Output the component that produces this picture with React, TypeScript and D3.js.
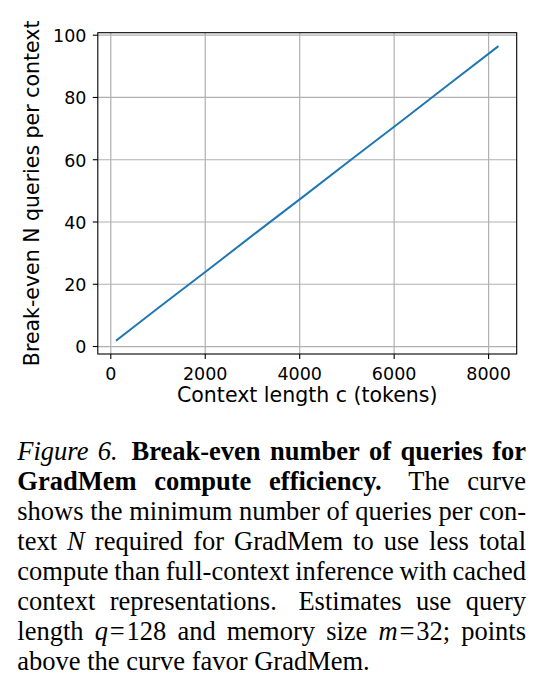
import React, { useMemo } from "react";
import * as d3 from "d3";

// ---- data ----
const contextLengths = [128, 512, 1024, 2048, 3072, 4096, 5120, 6144, 7168, 8192];
const breakEvenN = [2.1, 6.6, 12.6, 24.5, 36.5, 48.4, 60.4, 72.3, 84.3, 96.3];
const xTicks = [0, 2000, 4000, 6000, 8000];
const yTicks = [0, 20, 40, 60, 80, 100];
const xDomain = [-275, 8595];
const yDomain = [-2.4, 100.8];
const xLabel = "Context length c (tokens)";
const yLabel = "Break-even N queries per context";

// caption lines: words separated by spaces; "b:" bold, "i:" italic, "|" joins segments of one word
const captionLines = [
  "i:Figure i:6. b:Break-even b:number b:of b:queries b:for",
  "b:GradMem b:compute b:efficiency. The curve",
  "shows the minimum number of queries per con-",
  "text i:N required for GradMem to use less total",
  "compute than full-context inference with cached",
  "context representations. Estimates use query",
  "length i:q|=|128 and memory size i:m|=|32; points",
  "above the curve favor GradMem.",
];

const W = 547;
const H = 693;
const plot = { left: 97.8, right: 516.7, top: 32.7, bottom: 354 };
const chartFont = "'DejaVu Sans', sans-serif";
const serif = "'Liberation Serif', 'Times New Roman', serif";
const capSize = 26.5;
const capLeft = 17.3;
const capRight = 526;
const capTop = 460;
const capLead = 30;

type Seg = { t: string; s: string; pad: number };

function parseWord(w: string): Seg[] {
  return w.split("|").map((p) => {
    let s = "n";
    let t = p;
    if (p.startsWith("b:")) { s = "b"; t = p.slice(2); }
    else if (p.startsWith("i:")) { s = "i"; t = p.slice(2); }
    return { t, s, pad: t === "=" ? 0.07 * capSize : 0 };
  });
}

function fontFor(s: string) {
  return `${s === "i" ? "italic " : ""}${s === "b" ? "bold " : ""}${capSize}px ${serif}`;
}

export default function App() {
  const x = d3.scaleLinear().domain(xDomain).range([plot.left, plot.right]);
  const y = d3.scaleLinear().domain(yDomain).range([plot.bottom, plot.top]);
  const pts = contextLengths.map((c, i) => [c, breakEvenN[i]] as [number, number]);
  const linePath = d3.line<[number, number]>().x((d) => x(d[0])).y((d) => y(d[1]))(pts) || "";

  const caption = useMemo(() => {
    const canvas = document.createElement("canvas");
    const ctx = canvas.getContext("2d")!;
    const meas = (seg: Seg) => {
      ctx.font = fontFor(seg.s);
      return ctx.measureText(seg.t).width;
    };
    return captionLines.map((line, li) => {
      const words = line.split(" ").map(parseWord);
      const widths = words.map((segs) => segs.reduce((a, sg) => a + meas(sg) + 2 * sg.pad, 0));
      const total = widths.reduce((a, b) => a + b, 0);
      const last = li === captionLines.length - 1;
      const weights = words.slice(0, -1).map((segs) => {
        const lastT = segs[segs.length - 1].t;
        return lastT.endsWith(".") ? 1.5 : 1;
      });
      const wsum = weights.reduce((a, b) => a + b, 0);
      const unit = last ? 0.25 * capSize : (capRight - capLeft - total) / wsum;
      const out: { x: number; seg: Seg }[] = [];
      let cx = capLeft;
      words.forEach((segs, wi) => {
        segs.forEach((sg) => {
          cx += sg.pad;
          out.push({ x: cx, seg: sg });
          cx += meas(sg) + sg.pad;
        });
        if (wi < weights.length) cx += unit * weights[wi];
      });
      return out;
    });
  }, []);

  return (
    <svg
      width={W}
      height={H}
      style={{ position: "absolute", left: 0, top: 0, background: "#fff" }}
      xmlns="http://www.w3.org/2000/svg"
    >
      <rect x={0} y={0} width={W} height={H} fill="#fff" />
      {/* grid */}
      <g stroke="#b0b0b0" strokeWidth={1.2}>
        {xTicks.map((t) => (
          <line key={"gx" + t} x1={x(t)} x2={x(t)} y1={plot.top} y2={plot.bottom} />
        ))}
        {yTicks.map((t) => (
          <line key={"gy" + t} x1={plot.left} x2={plot.right} y1={y(t)} y2={y(t)} />
        ))}
      </g>
      {/* data line */}
      <path d={linePath} fill="none" stroke="#1f77b4" strokeWidth={2} strokeLinecap="square" />
      {/* spines */}
      <rect
        x={plot.left}
        y={plot.top}
        width={plot.right - plot.left}
        height={plot.bottom - plot.top}
        fill="none"
        stroke="#000"
        strokeWidth={1.1}
      />
      {/* ticks */}
      <g stroke="#000" strokeWidth={1.1}>
        {xTicks.map((t) => (
          <line key={"tx" + t} x1={x(t)} x2={x(t)} y1={plot.bottom} y2={plot.bottom + 5} />
        ))}
        {yTicks.map((t) => (
          <line key={"ty" + t} x1={plot.left - 5} x2={plot.left} y1={y(t)} y2={y(t)} />
        ))}
      </g>
      <g fontFamily={chartFont} fontSize={17.5} fill="#000">
        {xTicks.map((t) => (
          <text key={"lx" + t} x={x(t)} y={379.5} textAnchor="middle">
            {String(t)}
          </text>
        ))}
        {yTicks.map((t) => (
          <text key={"ly" + t} x={86.5} y={y(t) + 6.8} textAnchor="end">
            {String(t)}
          </text>
        ))}
      </g>
      <text
        x={(plot.left + plot.right) / 2}
        y={401.7}
        textAnchor="middle"
        fontFamily={chartFont}
        fontSize={20.5}
        fill="#000"
      >
        {xLabel}
      </text>
      <text
        transform={`translate(38.5, ${(plot.top + plot.bottom) / 2}) rotate(-90)`}
        textAnchor="middle"
        fontFamily={chartFont}
        fontSize={20.5}
        fill="#000"
      >
        {yLabel}
      </text>
      {/* caption */}
      <g fontFamily={serif} fontSize={capSize} fill="#000">
        {caption.map((line, li) => (
          <text key={"cap" + li} y={capTop + li * capLead}>
            {line.map((p, pi) => (
              <tspan
                key={pi}
                x={p.x}
                fontStyle={p.seg.s === "i" ? "italic" : "normal"}
                fontWeight={p.seg.s === "b" ? "bold" : "normal"}
              >
                {p.seg.t}
              </tspan>
            ))}
          </text>
        ))}
      </g>
    </svg>
  );
}
